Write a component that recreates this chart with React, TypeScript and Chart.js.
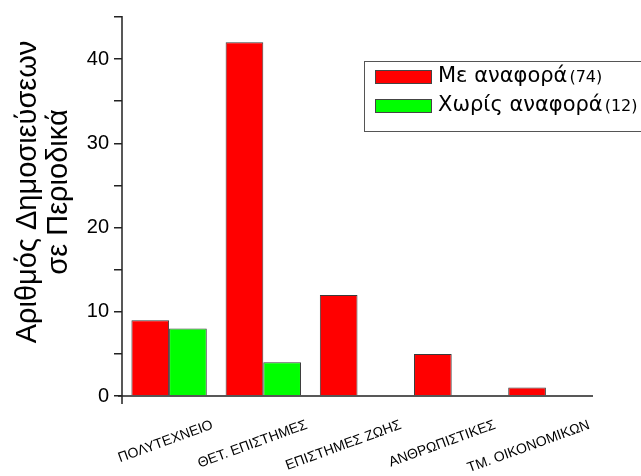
import React, { useEffect, useRef } from "react";
import { Chart, registerables } from "chart.js";

Chart.register(...registerables);

const categories = ["ΠΟΛΥΤΕΧΝΕΙΟ", "ΘΕΤ. ΕΠΙΣΤΗΜΕΣ", "ΕΠΙΣΤΗΜΕΣ ΖΩΗΣ", "ΑΝΘΡΩΠΙΣΤΙΚΕΣ", "ΤΜ. ΟΙΚΟΝΟΜΙΚΩΝ"];
const withRef = [9, 42, 12, 5, 1];
const withoutRef: (number | null)[] = [8, 4, null, null, null];
const seriesNames = ["Με αναφορά", "Χωρίς αναφορά"];
const seriesTotals = ["(74)", "(12)"];
const seriesColors = ["#ff0000", "#00ff00"];
const yTitleLines = ["Αριθμός Δημοσιεύσεων", "σε Περιοδικά"];
const yMax = 45;

const FONT = "'Liberation Sans', Arial, sans-serif";
const LFONT = "'DejaVu Sans', sans-serif";

const decorPlugin = {
  id: "decor",
  afterDraw(chart: any) {
    const ctx = chart.ctx as CanvasRenderingContext2D;
    const area = chart.chartArea;
    const xs = chart.scales.x;
    ctx.save();
    // axes
    ctx.strokeStyle = "#222";
    ctx.lineWidth = 1.5;
    ctx.beginPath();
    ctx.moveTo(area.left, area.top - 1);
    ctx.lineTo(area.left, area.bottom + 8);
    ctx.moveTo(area.left - 4, area.bottom);
    ctx.lineTo(area.right, area.bottom);
    ctx.stroke();

    // x labels
    ctx.fillStyle = "#000";
    ctx.font = `14px ${FONT}`;
    ctx.textAlign = "right";
    ctx.textBaseline = "top";
    categories.forEach((c, i) => {
      const cx = xs.getPixelForValue(i);
      ctx.save();
      ctx.translate(cx + 41, area.bottom + 22);
      ctx.rotate((-20 * Math.PI) / 180);
      ctx.fillText(c, 0, 0);
      ctx.restore();
    });

    // y title
    ctx.font = `29px ${FONT}`;
    ctx.textAlign = "center";
    ctx.textBaseline = "middle";
    yTitleLines.forEach((t, i) => {
      ctx.save();
      ctx.translate(28 + i * 31, 192);
      ctx.rotate(-Math.PI / 2);
      ctx.fillText(t, 0, 0);
      ctx.restore();
    });

    // legend
    ctx.strokeStyle = "#555";
    ctx.lineWidth = 1;
    ctx.fillStyle = "#fff";
    ctx.fillRect(364.5, 61.5, 300, 70);
    ctx.strokeRect(364.5, 61.5, 300, 70);
    seriesNames.forEach((n, i) => {
      const y = 77 + i * 29;
      ctx.fillStyle = seriesColors[i];
      ctx.fillRect(375, y - 7, 57, 14);
      ctx.strokeStyle = "#444";
      ctx.strokeRect(375.5, y - 6.5, 56, 13);
      ctx.fillStyle = "#000";
      ctx.textAlign = "left";
      ctx.textBaseline = "middle";
      ctx.font = `21px ${LFONT}`;
      ctx.fillText(n, 438, y);
      const w = ctx.measureText(n).width;
      ctx.font = `16px ${LFONT}`;
      ctx.fillText(seriesTotals[i], 438 + w + 2, y + 1);
    });
    ctx.restore();
  },
};

export default function App() {
  const ref = useRef<HTMLCanvasElement>(null);
  useEffect(() => {
    if (!ref.current) return;
    const chart = new Chart(ref.current, {
      type: "bar",
      data: {
        labels: categories,
        datasets: [
          {
            label: seriesNames[0],
            data: withRef,
            backgroundColor: seriesColors[0],
            borderColor: "#3a3a3a",
            borderWidth: 1,
          },
          {
            label: seriesNames[1],
            data: withoutRef,
            backgroundColor: seriesColors[1],
            borderColor: "#3a3a3a",
            borderWidth: 1,
          },
        ],
      },
      options: {
        animation: false,
        responsive: true,
        maintainAspectRatio: false,
        layout: { padding: { left: 62, right: 48, top: 14, bottom: 80 } },
        plugins: { legend: { display: false }, tooltip: { enabled: false } },
        datasets: { bar: { categoryPercentage: 0.8, barPercentage: 1 } },
        scales: {
          x: {
            ticks: { display: false },
            grid: { display: false },
            border: { display: false },
            afterFit: (s: any) => {
              s.height = 0;
            },
          },
          y: {
            min: 0,
            max: yMax,
            ticks: {
              stepSize: 5,
              padding: 5,
              color: "#000",
              font: { family: FONT, size: 20 },
              callback: (v: any) => (Number(v) % 10 === 0 ? String(v) : ""),
            },
            grid: { drawOnChartArea: false, tickLength: 8, color: "#222", lineWidth: 1.5 },
            border: { display: false },
            afterFit: (s: any) => {
              s.width = 60;
            },
          },
        },
      },
      plugins: [decorPlugin],
    });
    return () => chart.destroy();
  }, []);
  return (
    <div style={{ position: "fixed", left: 0, top: 0, width: 641, height: 476, background: "#fff" }}>
      <canvas ref={ref} />
    </div>
  );
}
